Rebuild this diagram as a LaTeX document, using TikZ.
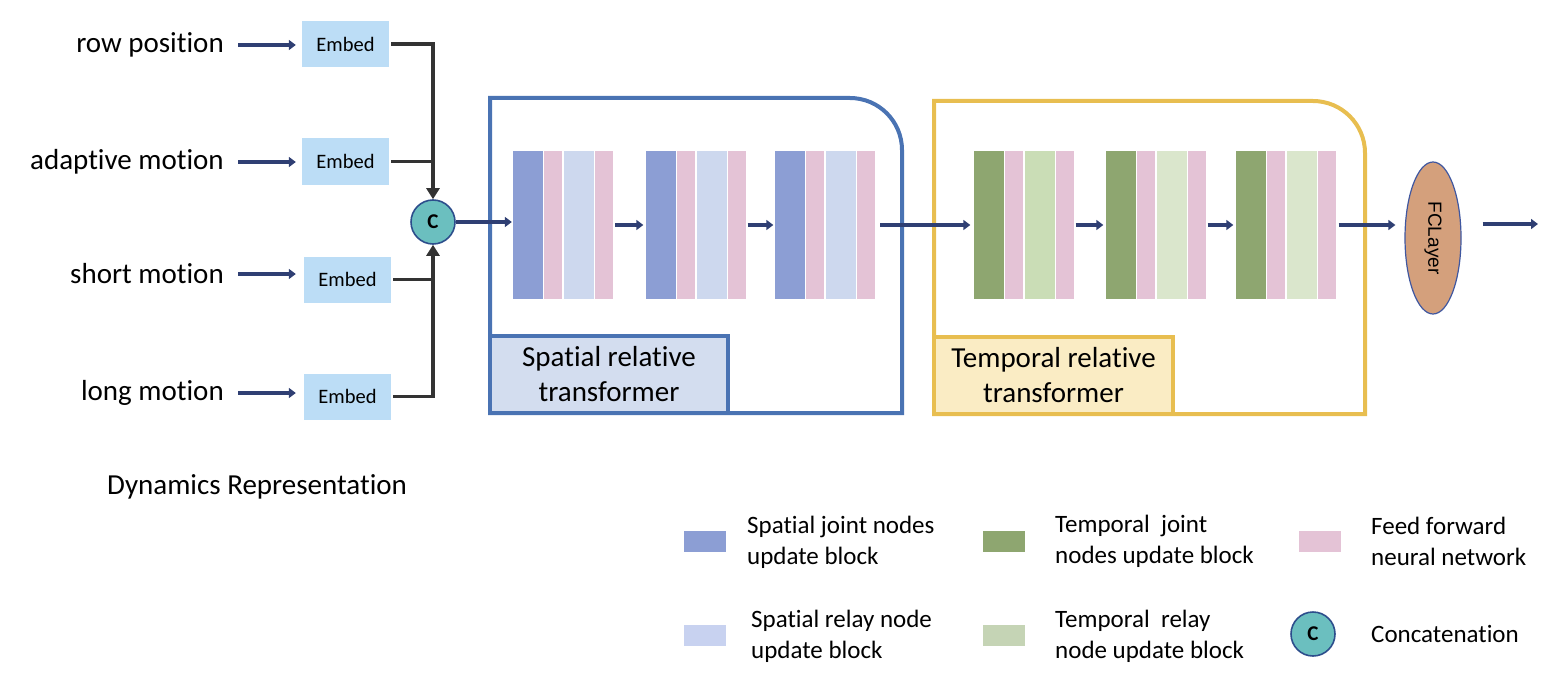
\documentclass[tikz,border=0pt]{standalone}
\usepackage{fontspec}
\setmainfont{Carlito}[Ligatures=NoCommon]
\newfontfamily\arialf{Liberation Sans}
\usetikzlibrary{arrows.meta,shapes.geometric}
\definecolor{navy}{HTML}{2F3F73}
\definecolor{blk}{HTML}{333333}
\definecolor{embedfill}{HTML}{BCDDF6}
\definecolor{cfill}{HTML}{6BBFBF}
\definecolor{cline}{HTML}{2D4E8C}
\definecolor{sjoint}{HTML}{8C9ED4}
\definecolor{srelay}{HTML}{CDD8EE}
\definecolor{srelayleg}{HTML}{C8D2F0}
\definecolor{ffn}{HTML}{E4C3D6}
\definecolor{tjoint}{HTML}{8EA670}
\definecolor{trelayA}{HTML}{CADDB6}
\definecolor{trelayB}{HTML}{DAE6CC}
\definecolor{trelayleg}{HTML}{C5D4B5}
\definecolor{sline}{HTML}{4A73B3}
\definecolor{sfill}{HTML}{D3DDEF}
\definecolor{tline}{HTML}{E8BE50}
\definecolor{tfill}{HTML}{FAECC4}
\definecolor{fcfill}{HTML}{D4A07C}
\definecolor{fcline}{HTML}{3F57A0}
\tikzset{
  nav/.style={draw=navy, line width=3.4pt, -{Triangle[length=7pt,width=10pt]}},
  blkline/.style={draw=blk, line width=3.4pt},
  blkarrow/.style={blkline, -{Triangle[length=11pt,width=13pt]}},
  intext/.style={anchor=east, inner sep=0pt, font=\fontsize{29}{34}\selectfont},
  embedbox/.style={rectangle, fill=embedfill, inner sep=0pt, minimum width=87pt, minimum height=46pt, font=\fontsize{20.5}{22}\selectfont},
  concat/.style={circle, fill=cfill, draw=cline, line width=1.6pt, minimum size=44pt, inner sep=0pt, font=\fontsize{21}{22}\selectfont\bfseries},
  blockbox/.style={rectangle, inner sep=0pt, minimum height=148pt},
  wide/.style={blockbox, minimum width=30pt},
  narrow/.style={blockbox, minimum width=18pt},
  sj/.style={wide, fill=sjoint},
  sr/.style={wide, fill=srelay},
  ff/.style={narrow, fill=ffn},
  tj/.style={wide, fill=tjoint},
  trA/.style={wide, fill=trelayA},
  trB/.style={wide, fill=trelayB},
  outline/.style={line width=4pt, line join=miter},
  labelbox/.style={rectangle, inner sep=0pt, line width=4pt, minimum width=238pt, minimum height=77pt, align=center, font=\fontsize{29}{35}\selectfont},
  legsq/.style={rectangle, inner sep=0pt, minimum width=42pt, minimum height=21pt},
  legtext/.style={anchor=west, inner sep=0pt, align=left, font=\fontsize{25}{31}\selectfont},
}
\begin{document}
\begin{tikzpicture}[x=1pt, y=-1pt]
\useasboundingbox (0,0) rectangle (1566,682);

% inputs
\node[intext] (l1) at (224,45) {row position};
\node[intext] (l2) at (224,162) {adaptive motion};
\node[intext] (l3) at (224,274) {short motion};
\node[intext] (l4) at (224,393) {long motion};

\node[embedbox] (e1) at (345.5,44) {Embed};
\node[embedbox] (e2) at (345.5,161.5) {Embed};
\node[embedbox] (e3) at (347.5,279.5) {Embed};
\node[embedbox] (e4) at (347.5,396.5) {Embed};

\draw[nav, shorten <=14pt, shorten >=6pt] (l1.east) -- (l1.east -| e1.west);
\draw[nav, shorten <=14pt, shorten >=6pt] (l2.east) -- (l2.east -| e2.west);
\draw[nav, shorten <=14pt, shorten >=8pt] (l3.east) -- (l3.east -| e3.west);
\draw[nav, shorten <=14pt, shorten >=8pt] (l4.east) -- (l4.east -| e4.west);

\node[concat] (c) at (433,222) {C};

\draw[blkarrow, shorten <=2pt] (e1.east) -| (c.north);
\draw[blkline, shorten <=2pt] (e2.east) -- (e2.east -| c.north);
\draw[blkline, shorten <=2pt] (e3.east) -- (e3.east -| c.south);
\draw[blkarrow, shorten <=2pt] (e4.east) -| (c.south);

% spatial transformer frame
\draw[outline, draw=sline] (490,413) -- (490,98) -- (850,98)
  .. controls (878.7,98) and (902,121.3) .. (902,150) -- (902,413) -- cycle;
\node[labelbox, draw=sline, fill=sfill] (slab) at (609,374.5) {Spatial relative\\transformer};

% temporal transformer frame
\draw[outline, draw=tline] (934,414) -- (934,101) -- (1313,101)
  .. controls (1341.7,101) and (1365,124.3) .. (1365,153) -- (1365,414) -- cycle;
\node[labelbox, draw=tline, fill=tfill, minimum width=239pt] (tlab) at (1053.5,375.5) {Temporal relative\\transformer};

% spatial blocks
\node[sj] (s1a) at (528,225) {};
\node[ff] (s1b) at (553,225) {};
\node[sr] (s1c) at (579,225) {};
\node[ff] (s1d) at (604,225) {};
\node[sj] (s2a) at (660.5,225) {};
\node[ff] (s2b) at (685.5,225) {};
\node[sr] (s2c) at (711.5,225) {};
\node[ff] (s2d) at (736.5,225) {};
\node[sj] (s3a) at (789.5,225) {};
\node[ff] (s3b) at (815,225) {};
\node[sr] (s3c) at (840.5,225) {};
\node[ff] (s3d) at (866,225) {};

% temporal blocks
\node[tj] (t1a) at (988.5,225) {};
\node[ff] (t1b) at (1014,225) {};
\node[trA] (t1c) at (1039.5,225) {};
\node[ff] (t1d) at (1064.5,225) {};
\node[tj] (t2a) at (1120.5,225) {};
\node[ff] (t2b) at (1146,225) {};
\node[trB] (t2c) at (1171.5,225) {};
\node[ff] (t2d) at (1196.5,225) {};
\node[tj] (t3a) at (1250.5,225) {};
\node[ff] (t3b) at (1276,225) {};
\node[trB] (t3c) at (1301.5,225) {};
\node[ff] (t3d) at (1326.5,225) {};

% FC layer
\node[ellipse, fill=fcfill, draw=fcline, line width=1.2pt, minimum width=56pt, minimum height=152pt, inner sep=0pt] (fc) at (1433,238)
  {\rotatebox{-90}{\arialf\fontsize{19}{20}\selectfont FCLayer}};
\coordinate (out) at (1538,224);

% flow arrows
\draw[nav, shorten >=1pt] (c.east) -- (c.east -| s1a.west);
\draw[nav, shorten <=2pt, shorten >=2pt] (s1d.east) -- (s2a.west);
\draw[nav, shorten <=2pt, shorten >=1pt] (s2d.east) -- (s3a.west);
\draw[nav, shorten <=5pt, shorten >=3pt] (s3d.east) -- (t1a.west);
\draw[nav, shorten <=2pt, shorten >=2pt] (t1d.east) -- (t2a.west);
\draw[nav, shorten <=2pt, shorten >=2pt] (t2d.east) -- (t3a.west);
\draw[nav, shorten <=3pt, shorten >=9pt] (t3d.east) -- (t3d.east -| fc.west);
\draw[nav, shorten <=21pt] (fc.east |- out) -- (out);

% caption
\node[anchor=west, inner sep=0pt, font=\fontsize{29}{34}\selectfont] (cap) at (107,487) {Dynamics Representation};

% legend
\node[legsq, fill=sjoint] (q1) at (705,541) {};
\node[legtext] (q1t) at (747,542) {Spatial joint nodes\\update block};
\node[legsq, fill=tjoint] (q2) at (1003.5,541) {};
\node[legtext] (q2t) at (1055,541) {Temporal\ \ joint\\nodes update block};
\node[legsq, fill=ffn] (q3) at (1320,541) {};
\node[legtext] (q3t) at (1371,541) {Feed forward\\neural network};
\node[legsq, fill=srelayleg] (q4) at (705,635.5) {};
\node[legtext] (q4t) at (751,636) {Spatial relay node\\update block};
\node[legsq, fill=trelayleg] (q5) at (1003.5,635.5) {};
\node[legtext] (q5t) at (1055,636) {Temporal\ \ relay\\node update block};
\node[concat] (q6) at (1313,634) {C};
\node[legtext] (q6t) at (1371,634) {Concatenation};
\end{tikzpicture}
\end{document}
